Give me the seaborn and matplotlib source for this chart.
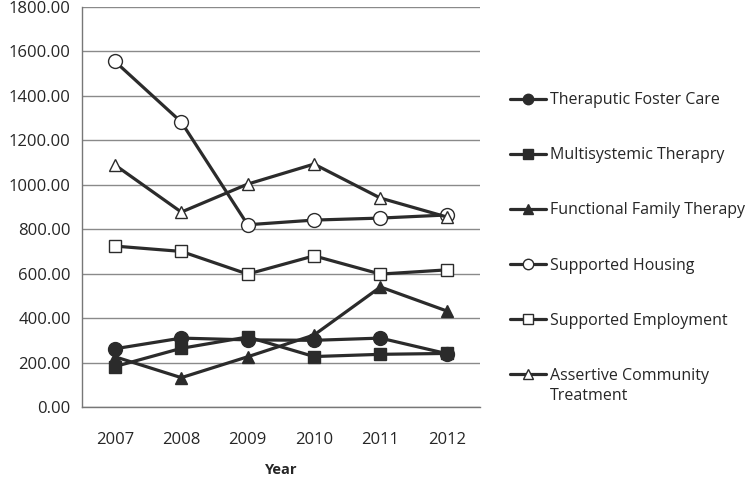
import pandas as pd
import numpy as np
import matplotlib
matplotlib.use("Agg")
import matplotlib.pyplot as plt
import seaborn as sns

# Chart data
years = ['2007', '2008', '2009', '2010', '2011', '2012']
foster_care = [262, 310, 302, 300, 310, 240]
multisystemic = [182, 264, 315, 227, 237, 241]
functional_family = [226, 132, 226, 324, 540, 432]
supported_housing = [1555, 1282, 820, 841, 850, 864]
supported_employment = [724, 700, 598, 680, 598, 617]
assertive_community = [1089, 877, 1003, 1093, 940, 855]

series_names = ['Theraputic Foster Care', 'Multisystemic Therapry', 'Functional Family Therapy',
                'Supported Housing', 'Supported Employment', 'Assertive Community']
series_values = [foster_care, multisystemic, functional_family,
                 supported_housing, supported_employment, assertive_community]
markers = ['o', 's', '^', 'o', 's', '^']
filled = [True, True, True, False, False, False]

rows = []
for name, vals in zip(series_names, series_values):
    for i, v in enumerate(vals):
        rows.append({'series': name, 'pos': i, 'value': v})
df = pd.DataFrame(rows)

sns.set_style('white')
plt.rcParams['font.family'] = ['Open Sans', 'DejaVu Sans']

fig = plt.figure(figsize=(7.5, 4.82), dpi=100)
ax = fig.add_axes([0.109, 0.1556, 0.531, 0.83])

line_col = '#2b2b2b'
for name, m, f in zip(series_names, markers, filled):
    sns.lineplot(data=df[df['series'] == name], x='pos', y='value', ax=ax,
                 color=line_col, linewidth=2.3, marker=m, markersize=9 if m != 'o' else 10,
                 markerfacecolor=line_col if f else 'white',
                 markeredgecolor=line_col, markeredgewidth=1.0, label=name)

ax.set_xlim(-0.5, 5.5)
ax.set_ylim(0, 1800)
ax.set_yticks(np.arange(0, 1801, 200))
ax.set_yticklabels([f'{v:.2f}' for v in np.arange(0, 1801, 200)], fontsize=12)
ax.set_xticks(range(len(years)))
ax.set_xticklabels(years, fontsize=12)
ax.set_xticks(np.arange(-0.5, 5.6, 1), minor=True)
ax.tick_params(axis='x', which='major', length=0, pad=18)
ax.tick_params(axis='x', which='minor', length=5, color='#777777', direction='out')
ax.tick_params(axis='y', length=0, pad=8)
ax.yaxis.grid(True, color='#8a8a8a', linewidth=1)
ax.set_axisbelow(True)
for s in ['top', 'right']:
    ax.spines[s].set_visible(False)
for s in ['left', 'bottom']:
    ax.spines[s].set_color('#777777')
    ax.spines[s].set_linewidth(1)
ax.set_xlabel('Year', fontsize=10.5, fontweight='bold', labelpad=11)
ax.set_ylabel('')

handles, labels = ax.get_legend_handles_labels()
if ax.get_legend():
    ax.get_legend().remove()
leg = fig.legend(handles, labels, loc='upper left', bbox_to_anchor=(0.672, 0.822),
                 frameon=False, fontsize=11.5, labelspacing=2.45, handlelength=2.25,
                 handletextpad=0.25, borderaxespad=0, markerscale=0.75)

# second line of the last legend label, placed under the first line
fig.canvas.draw()
bb = leg.get_texts()[-1].get_window_extent()
x0, y0 = fig.transFigure.inverted().transform((bb.x0, bb.y0 - 4))
fig.text(x0, y0, 'Treatment', fontsize=11.5, va='top', ha='left')

fig.savefig('out.png', dpi=100)
